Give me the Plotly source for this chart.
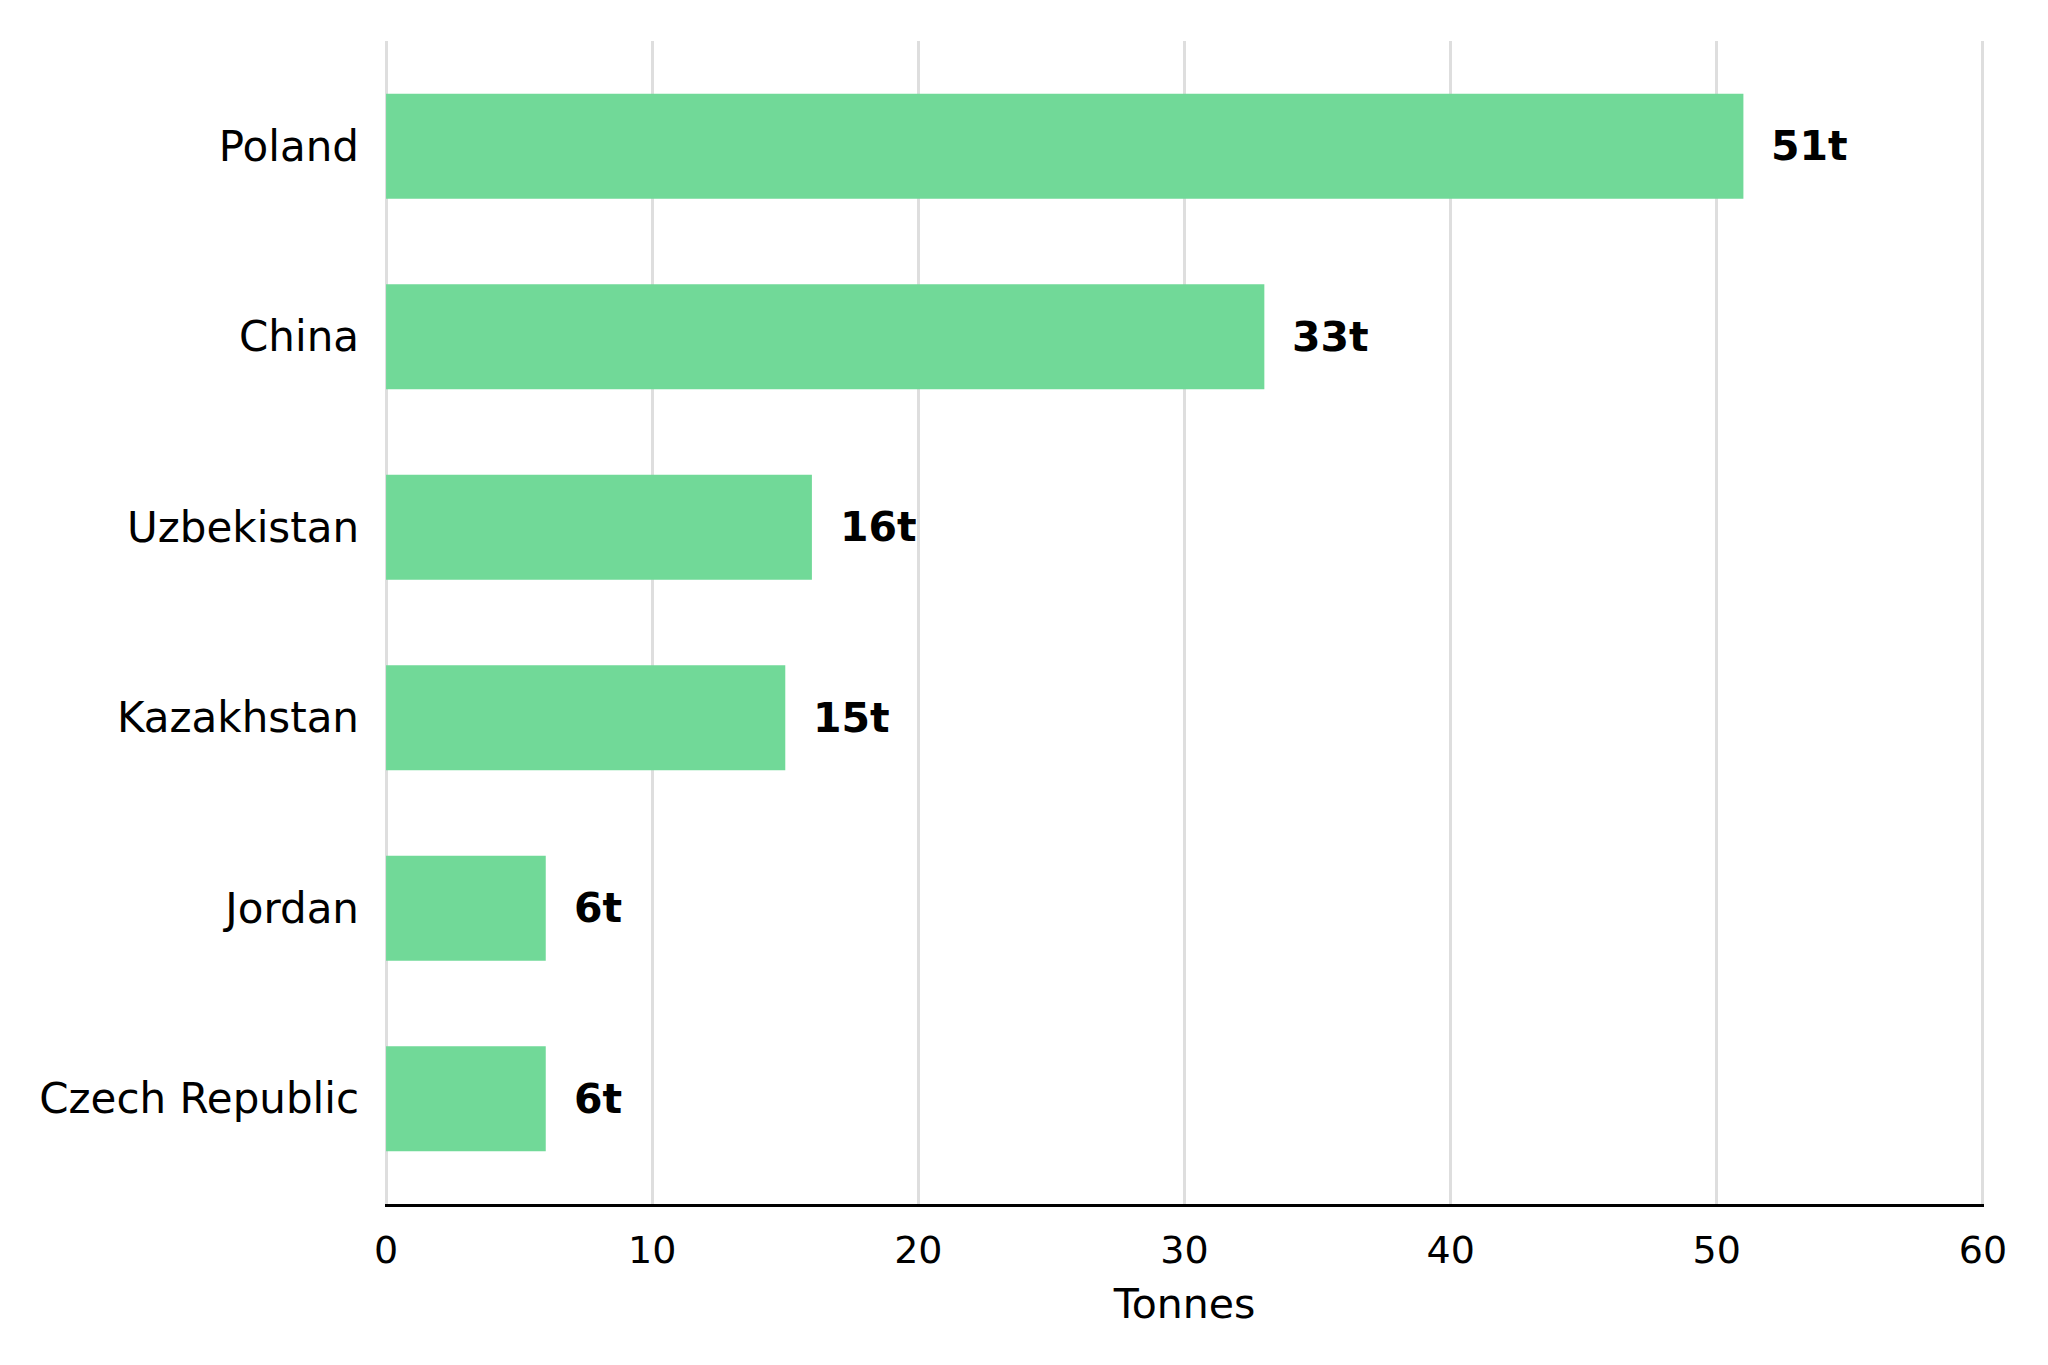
import plotly.graph_objects as go

# data, top to bottom as in the chart
countries = ["Poland", "China", "Uzbekistan", "Kazakhstan", "Jordan", "Czech Republic"]
tonnes = [51, 33, 16, 15, 6, 6]
x_ticks = [0, 10, 20, 30, 40, 50, 60]

bar_colour = "#71d998"
font_family = "DejaVu Sans"

fig = go.Figure()

fig.add_trace(
    go.Bar(
        x=tonnes,
        y=countries,
        orientation="h",
        width=0.55,
        marker=dict(color=bar_colour, line=dict(width=0)),
        hoverinfo="skip",
    )
)

# bold value labels at the end of each bar
for c, v in zip(countries, tonnes):
    fig.add_annotation(
        x=v,
        y=c,
        text="<b>%dt</b>" % v,
        showarrow=False,
        xanchor="left",
        yanchor="middle",
        xshift=26,
        font=dict(family=font_family, size=41, color="black"),
    )

# page body adds 8px, so margins are 8px smaller on the left/top
fig.update_layout(
    width=2048,
    height=1365,
    margin=dict(l=377, r=72, t=33, b=169),
    paper_bgcolor="white",
    plot_bgcolor="white",
    showlegend=False,
    font=dict(family=font_family, color="black"),
)

fig.update_xaxes(
    range=[-0.04, 60.04],  # tiny pad so the edge gridlines at 0 and 60 show
    tickvals=x_ticks,
    showgrid=True,
    gridcolor="#dedede",
    gridwidth=2.5,
    zeroline=False,
    showline=True,
    linecolor="black",
    linewidth=3,
    ticks="outside",
    ticklen=0,
    ticklabelstandoff=10,
    tickfont=dict(size=38, family=font_family),
    title=dict(text="Tonnes", font=dict(size=41, family=font_family), standoff=19),
)

fig.update_yaxes(
    categoryorder="array",
    categoryarray=countries[::-1],
    range=[-0.5525, 5.5525],
    showgrid=False,
    zeroline=False,
    showline=False,
    ticks="",
    ticklabelstandoff=25,
    tickfont=dict(size=42, family=font_family),
)

fig.write_html("out.html")
